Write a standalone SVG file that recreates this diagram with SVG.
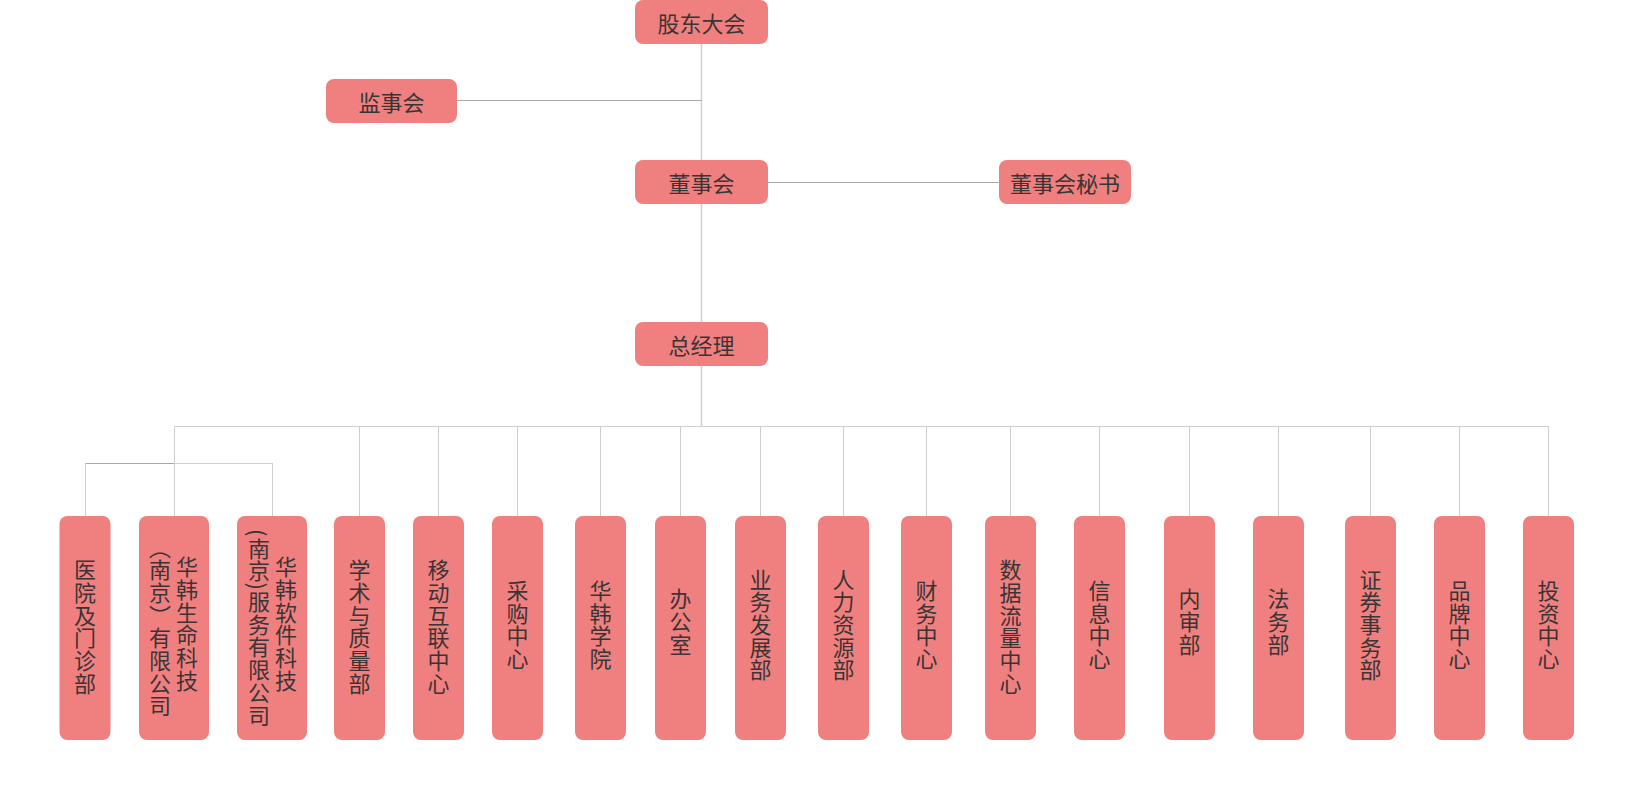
<svg xmlns="http://www.w3.org/2000/svg" width="1632" height="787" viewBox="0 0 1632 787">
<style>
.box{fill:#f08080;}
.t{font-family:"Noto Sans CJK SC","Noto Sans",sans-serif;font-size:22px;fill:#3b3434;text-anchor:middle;dominant-baseline:central;}
.vt{font-family:"Noto Sans CJK SC","Noto Sans",sans-serif;font-size:22px;fill:#3b3434;text-anchor:middle;writing-mode:vertical-rl;letter-spacing:0.7px;}
.ln{stroke:#cfcfcf;stroke-width:1;fill:none;}
.dk{stroke:#a8a8a8;stroke-width:1;fill:none;}
</style>
<rect width="1632" height="787" fill="#ffffff"/>
<g id="connectors">
<path class="ln" d="M701.5 44V426" style="stroke-width:1.5"/>
<path class="dk" d="M457 100.5H701.5"/>
<path class="dk" d="M768 182.5H999"/>
<path class="ln" d="M174 426.5H1549"/>
<path class="ln" d="M174.5 426V463"/>
<path class="dk" d="M85 463.5H174.5"/>
<path class="ln" d="M174.5 463.5H272.5"/>
<path class="ln" d="M85.5 463V516M174.5 463V516M272.5 463V516"/>
<path class="ln" d="M359.5 426V516M438.5 426V516M517.5 426V516M600.5 426V516M680.5 426V516M760.5 426V516M843.5 426V516M926.5 426V516M1010.5 426V516M1099.5 426V516M1189.5 426V516M1278.5 426V516M1370.5 426V516M1459.5 426V516M1548.5 426V516"/>
</g>
<g id="n-gudong"><rect class="box" x="635" y="0" width="133" height="44" rx="8"/><text class="t" x="701.5" y="22">股东大会</text></g>
<g id="n-jianshi"><rect class="box" x="326" y="79" width="131" height="44" rx="8"/><text class="t" x="391.5" y="101">监事会</text></g>
<g id="n-dongshi"><rect class="box" x="635" y="160" width="133" height="44" rx="8"/><text class="t" x="701.5" y="182">董事会</text></g>
<g id="n-mishu"><rect class="box" x="999" y="160" width="132" height="44" rx="8"/><text class="t" x="1065" y="182">董事会秘书</text></g>
<g id="n-zongjingli"><rect class="box" x="635" y="322" width="133" height="44" rx="8"/><text class="t" x="701.5" y="344">总经理</text></g>
<g id="n-yiyuan"><rect class="box" x="59.5" y="516" width="51" height="224" rx="8"/><text class="vt" x="85" y="627">医院及门诊部</text></g>
<g id="n-shengming"><rect class="box" x="139" y="516" width="70" height="224" rx="8"/><text class="vt" x="187" y="624">华韩生命科技</text><text class="vt" x="160" y="627">（南京）有限公司</text></g>
<g id="n-ruanjian"><rect class="box" x="237" y="516" width="70" height="224" rx="8"/><text class="vt" x="286" y="624">华韩软件科技</text><text class="vt" x="259" y="628">(南京)服务有限公司</text></g>
<g id="n-xueshu"><rect class="box" x="334" y="516" width="51" height="224" rx="8"/><text class="vt" x="359.5" y="627">学术与质量部</text></g>
<g id="n-yidong"><rect class="box" x="413" y="516" width="51" height="224" rx="8"/><text class="vt" x="438.5" y="627">移动互联中心</text></g>
<g id="n-caigou"><rect class="box" x="492" y="516" width="51" height="224" rx="8"/><text class="vt" x="517.5" y="625">采购中心</text></g>
<g id="n-xueyuan"><rect class="box" x="575" y="516" width="51" height="224" rx="8"/><text class="vt" x="600.5" y="625">华韩学院</text></g>
<g id="n-bangong"><rect class="box" x="655" y="516" width="51" height="224" rx="8"/><text class="vt" x="680.5" y="622">办公室</text></g>
<g id="n-yewu"><rect class="box" x="735" y="516" width="51" height="224" rx="8"/><text class="vt" x="760.5" y="625">业务发展部</text></g>
<g id="n-renli"><rect class="box" x="818" y="516" width="51" height="224" rx="8"/><text class="vt" x="843.5" y="625">人力资源部</text></g>
<g id="n-caiwu"><rect class="box" x="901" y="516" width="51" height="224" rx="8"/><text class="vt" x="926.5" y="625">财务中心</text></g>
<g id="n-shuju"><rect class="box" x="985" y="516" width="51" height="224" rx="8"/><text class="vt" x="1010.5" y="627">数据流量中心</text></g>
<g id="n-xinxi"><rect class="box" x="1074" y="516" width="51" height="224" rx="8"/><text class="vt" x="1099.5" y="625">信息中心</text></g>
<g id="n-neishen"><rect class="box" x="1164" y="516" width="51" height="224" rx="8"/><text class="vt" x="1189.5" y="622">内审部</text></g>
<g id="n-fawu"><rect class="box" x="1253" y="516" width="51" height="224" rx="8"/><text class="vt" x="1278.5" y="622">法务部</text></g>
<g id="n-zhengquan"><rect class="box" x="1345" y="516" width="51" height="224" rx="8"/><text class="vt" x="1370.5" y="625">证券事务部</text></g>
<g id="n-pinpai"><rect class="box" x="1434" y="516" width="51" height="224" rx="8"/><text class="vt" x="1459.5" y="625">品牌中心</text></g>
<g id="n-touzi"><rect class="box" x="1523" y="516" width="51" height="224" rx="8"/><text class="vt" x="1548.5" y="625">投资中心</text></g>
</svg>
